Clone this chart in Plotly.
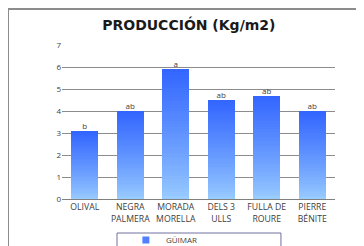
import plotly.graph_objects as go

categories = ["OLIVAL", "NEGRA<br>PALMERA", "MORADA<br>MORELLA", "DELS 3<br>ULLS", "FULLA DE<br>ROURE", "PIERRE<br>BÉNITE"]
values = [3.1, 4.0, 5.92, 4.52, 4.7, 3.98]
letters = ["b", "ab", "a", "ab", "ab", "ab"]
series_name = "GÜIMAR"
y_ticks = [0, 1, 2, 3, 4, 5, 6, 7]

N = 40
top = (51, 102, 255)
bot = (153, 204, 255)

fig = go.Figure()
for k in range(N):
    t = (k / (N - 1)) ** 0.85
    c = tuple(round(bot[j] + (top[j] - bot[j]) * t) for j in range(3))
    fig.add_trace(go.Bar(
        x=categories, y=[v / N for v in values],
        marker=dict(color="rgb(%d,%d,%d)" % c, line=dict(width=0)),
        name=series_name, showlegend=False, hoverinfo="skip",
    ))

fig.add_trace(go.Scatter(
    x=categories, y=values, mode="text", text=letters,
    textposition="top center", textfont=dict(size=8, color="#404040", family="Open Sans"),
    showlegend=False, cliponaxis=False,
))
# legend entry
fig.add_trace(go.Scatter(
    x=[None], y=[None], mode="markers", name=series_name,
    marker=dict(symbol="square", size=7, color="#5080ff"), showlegend=True,
))

fig.update_layout(
    width=356, height=238,
    margin=dict(l=54, r=29, t=37, b=47, autoexpand=False),
    paper_bgcolor="white", plot_bgcolor="white",
    barmode="stack", bargap=0.41,
    title=dict(text="<b>PRODUCCIÓN (Kg/m2)</b>", x=0.508, xanchor="center", y=0.9286, yanchor="middle",
               font=dict(size=14, color="#1a1a1a", family="DejaVu Sans")),
    xaxis=dict(showgrid=False, showline=True, linecolor="#808080", linewidth=1,
               tickfont=dict(size=8.7, color="#404040", family="Open Sans"), ticks=""),
    yaxis=dict(range=[0, 7], tickvals=y_ticks, showgrid=True, gridcolor="#8c8c8c", gridwidth=1,
               zeroline=False, showline=False, ticks="",
               tickfont=dict(size=8, color="#404040", family="Open Sans")),
    legend=dict(orientation="h", x=0.234, xanchor="left", y=-0.266, yanchor="middle",
                font=dict(size=8, color="#404040", family="Open Sans"), bgcolor="rgba(0,0,0,0)",
                itemwidth=30),
    showlegend=True,
    shapes=[
        dict(type="rect", xref="paper", yref="paper", x0=-0.1978, x1=1.2, y0=-0.5, y1=1.2338,
             line=dict(color="#8c8c8c", width=2), fillcolor="rgba(0,0,0,0)", layer="below"),
        dict(type="rect", xref="paper", yref="paper", x0=0.2015, x1=0.802, y0=-0.5, y1=-0.2208,
             line=dict(color="#7070a0", width=1), fillcolor="rgba(0,0,0,0)"),
    ],
)

fig.write_html("out.html")
